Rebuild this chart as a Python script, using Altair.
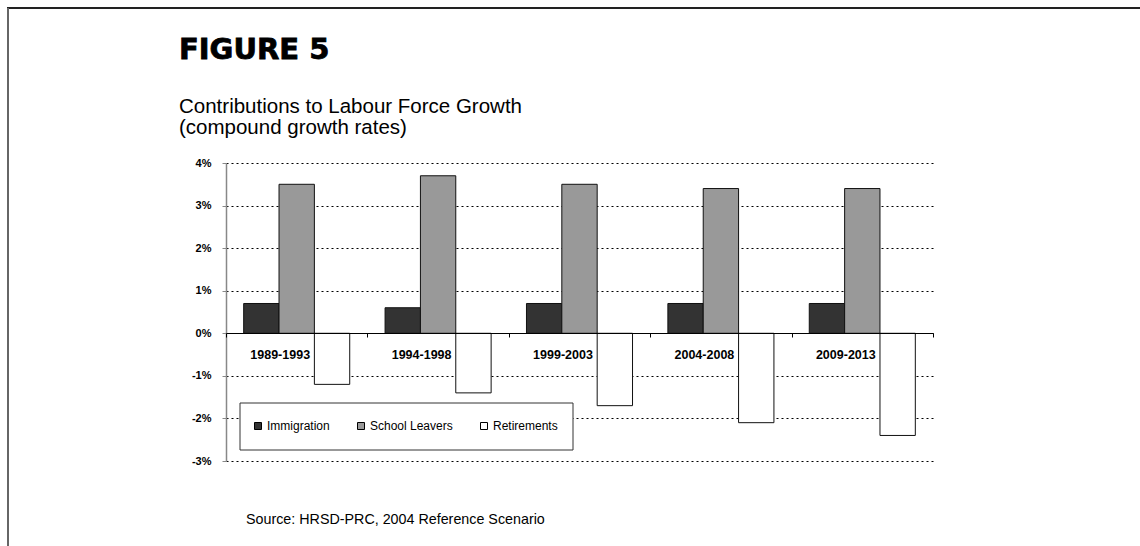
import altair as alt
import pandas as pd

# ---- data ----
periods = ["1989-1993", "1994-1998", "1999-2003", "2004-2008", "2009-2013"]
series_names = ["Immigration", "School Leavers", "Retirements"]
immigration = [0.7, 0.6, 0.7, 0.7, 0.7]
school_leavers = [3.5, 3.7, 3.5, 3.4, 3.4]
retirements = [-1.2, -1.4, -1.7, -2.1, -2.4]
y_ticks = [-3, -2, -1, 0, 1, 2, 3, 4]
bar_colors = ["#333333", "#999999", "#ffffff"]

figure_label = "FIGURE 5"
subtitle_lines = ["Contributions to Labour Force Growth", "(compound growth rates)"]
source_text = "Source: HRSD-PRC, 2004 Reference Scenario"

rows = []
for name, vals in zip(series_names, [immigration, school_leavers, retirements]):
    for p, v in zip(periods, vals):
        rows.append({"period": p, "series": name, "value": v})
df = pd.DataFrame(rows)
one = pd.DataFrame({"k": [0]})

FONT = "Liberation Sans"

bars = alt.Chart(df).mark_bar(stroke="#111111", strokeWidth=1).encode(
    x=alt.X(
        "period:N", sort=periods, title=None,
        scale=alt.Scale(paddingInner=0, paddingOuter=0),
        axis=alt.Axis(
            orient="bottom", offset=-128, domainColor="#000000", domainWidth=1,
            tickColor="#000000", tickSize=4, tickBand="extent", labelAngle=0,
            labelFont=FONT, labelFontSize=12.5, labelFontWeight="bold",
            labelColor="#000000", labelOffset=-17, labelPadding=11, grid=False, zindex=1,
        ),
    ),
    xOffset=alt.XOffset(
        "series:N", sort=series_names,
        scale=alt.Scale(paddingOuter=0.5, paddingInner=0),
    ),
    y=alt.Y(
        "value:Q", title=None,
        scale=alt.Scale(domain=[-3, 4], nice=False, zero=True),
        axis=alt.Axis(
            values=y_ticks, labelExpr="datum.value + '%'",
            domainColor="#888888", domainWidth=1.5, tickColor="#888888", tickSize=4,
            labelFont=FONT, labelFontSize=11, labelFontWeight="bold", labelColor="#000000",
            labelPadding=11, grid=True, gridColor="#000000", gridDash=[2, 3], gridWidth=1,
        ),
    ),
    color=alt.Color(
        "series:N", sort=series_names,
        scale=alt.Scale(domain=series_names, range=bar_colors),
        legend=alt.Legend(
            title=None, orient="none", legendX=26, legendY=257, direction="horizontal",
            symbolType="square", symbolSize=49, symbolStrokeColor="#000000",
            symbolStrokeWidth=1, labelFont=FONT, labelFontSize=12, labelColor="#000000",
            labelOffset=3, columnPadding=25, padding=0,
        ),
    ),
)

legend_box = alt.Chart(one).mark_rect(fill="#ffffff", stroke="#333333", strokeWidth=1).encode(
    x=alt.value(14), x2=alt.value(347), y=alt.value(240), y2=alt.value(287)
)

frame_top = alt.Chart(one).mark_rule(color="#222222", strokeWidth=2).encode(
    x=alt.value(-219), x2=alt.value(914), y=alt.value(-155)
)
frame_left = alt.Chart(one).mark_rule(color="#666666", strokeWidth=2).encode(
    x=alt.value(-218), y=alt.value(-155), y2=alt.value(383)
)

title = alt.Chart(one).mark_text(
    align="left", baseline="alphabetic", font="DejaVu Sans", fontSize=29,
    fontWeight="bold", color="#000000", stroke="#000000", strokeWidth=0.8,
).encode(x=alt.value(-47), y=alt.value(-104), text=alt.value(figure_label))

subtitle = alt.Chart(one).mark_text(
    align="left", baseline="alphabetic", font=FONT, fontSize=20.5, lineHeight=21,
    color="#000000",
).encode(x=alt.value(-47), y=alt.value(-50.5), text=alt.value(subtitle_lines))

source = alt.Chart(one).mark_text(
    align="left", baseline="alphabetic", font=FONT, fontSize=14.3, color="#000000",
).encode(x=alt.value(20), y=alt.value(361), text=alt.value(source_text))

chart = alt.layer(
    frame_top, frame_left, bars, legend_box, title, subtitle, source
).properties(
    width=707, height=298,
    padding={"left": 226, "top": 163, "right": 207, "bottom": 85},
    autosize=alt.AutoSizeParams(type="none"),
    background="#ffffff",
).configure_view(stroke=None)

chart.save("out.html", embed_options={"renderer": "svg", "actions": False})
